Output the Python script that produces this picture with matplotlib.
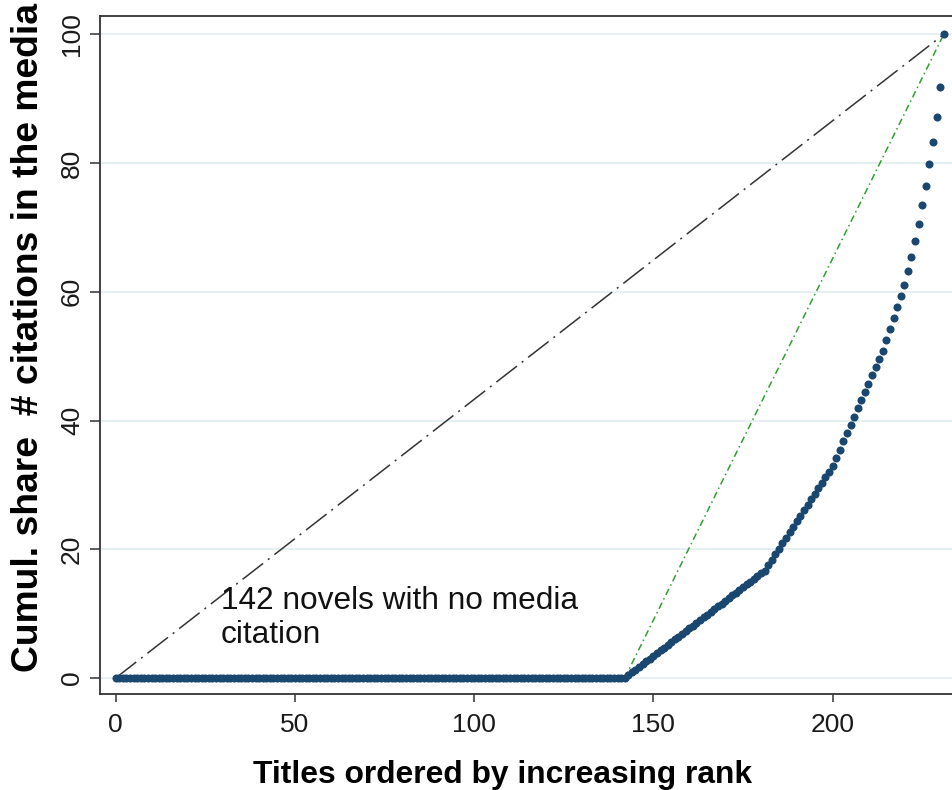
import numpy as np
import matplotlib
matplotlib.use("Agg")
import matplotlib.pyplot as plt

# citations per title, titles ordered by increasing rank
n_zero = 142
n_one = 39
n_two = 19
tail_counts = [3, 3, 3, 3, 3, 3, 3, 3, 3, 3, 3, 3, 3, 3,
               4, 4, 4, 4, 4, 4, 5, 5, 6, 6, 7, 7, 8, 8, 9, 11, 19]
counts = [0] * n_zero + [1] * n_one + [2] * n_two + tail_counts

xticks = [0, 50, 100, 150, 200]
yticks = [0, 20, 40, 60, 80, 100]
annot = "142 novels with no media\ncitation"
xlabel = "Titles ordered by increasing rank"
ylabel = "Cumul. share  # citations in the media"

# Lorenz curve: start at origin, cumulative share in percent
rank = np.arange(len(counts) + 1)
share = np.concatenate([[0], np.cumsum(counts) / np.sum(counts) * 100])
n = rank[-1]

navy = "#1a476f"
fam = ["Liberation Sans", "DejaVu Sans"]
narrow = ["Liberation Sans Narrow", "Liberation Sans", "DejaVu Sans"]

fig = plt.figure(figsize=(9.52, 7.9), dpi=100)
ax = fig.add_axes([100 / 952, 1 - 694 / 790, 852 / 952, 678.3 / 790])

ax.set_xlim(-4.38, 233.3)
ax.set_ylim(-2.49, 102.9)

for y in yticks:
    ax.axhline(y, color="#e4eef1", lw=1.3, zorder=0)

# equality line and line from first cited title
ax.plot([0, n], [0, 100], color="#333333", lw=1.1,
        dashes=(17, 4, 1.3, 4), zorder=2)
ax.plot([n_zero, n], [0, 100], color="#2f9f2f", lw=1.1,
        dashes=(4.5, 2.3, 1, 2.3), zorder=2)

ax.plot(rank, share, "o", color=navy, ms=5.8, mew=0, zorder=3)

ax.text(29.4, 14.3, annot, fontsize=22.8, family=fam, color="#111111",
        ha="left", va="top", linespacing=1.18)

ax.spines["right"].set_visible(False)
for s in ["left", "bottom", "top"]:
    ax.spines[s].set_color("#333333")
    ax.spines[s].set_linewidth(1.3)

ax.set_xticks(xticks)
ax.set_yticks(yticks)
ax.tick_params(axis="x", length=6, width=1.1, color="#333333", pad=8,
               labelsize=19, labelcolor="#1a1a1a")
ax.tick_params(axis="y", length=7.5, width=1.1, color="#333333", pad=4,
               labelsize=19, labelcolor="#1a1a1a")
for lab in ax.get_xticklabels() + ax.get_yticklabels():
    lab.set_family(narrow)
for lab in ax.get_yticklabels():
    lab.set_rotation(90)
    lab.set_va("center")

fig.text(503 / 952, 1 - 783 / 790, xlabel, fontsize=22.9, fontweight="bold",
         family=fam, ha="center", va="baseline")
fig.text(29 / 952, 1 - 338 / 790, ylabel, fontsize=26.8, fontweight="bold",
         family=fam, ha="center", va="center", rotation=90)

fig.savefig("out.png", dpi=100)
